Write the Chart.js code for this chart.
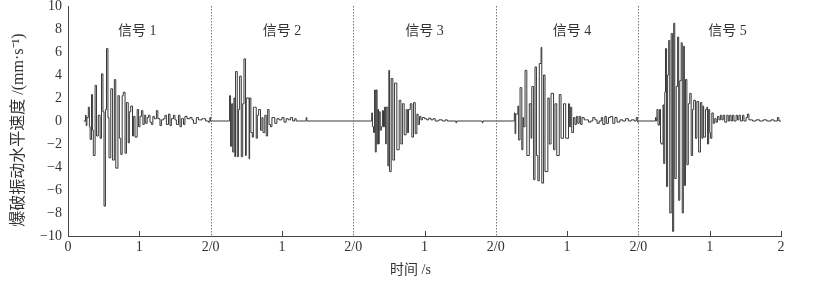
<!DOCTYPE html>
<html><head><meta charset="utf-8">
<script src="https://cdn.jsdelivr.net/npm/chart.js@4.4.0/dist/chart.umd.min.js"></script>
<style>html,body{margin:0;padding:0;background:#fff;}#wrap{width:818px;height:281px;position:relative;}</style>
</head><body><div id="wrap"><canvas id="c"></canvas></div>
<script>
// ---- data ----
const signalNames = ["信号 1", "信号 2", "信号 3", "信号 4", "信号 5"];
const xTickLabels = ["0", "1", "2/0", "1", "2/0", "1", "2/0", "1", "2/0", "1", "2"];
const separators = [2, 4, 6, 8];
const xTitle = "时间 /s";
const yTitle = "爆破振动水平速度 /(mm·s⁻¹)";
// [local time (s), velocity (mm/s)]
const signal1 = [[0.22,0],[0.24,0],[0.245,0.5],[0.255,-0.4],[0.265,0.3],[0.285,1.2],[0.30,-0.5],[0.31,-1.6],[0.33,2.3],[0.345,-0.8],[0.355,-3.0],[0.38,3.1],[0.40,-1.3],[0.425,0.5],[0.45,-1.5],[0.47,4.1],[0.49,0.8],[0.505,-7.4],[0.525,1.0],[0.54,6.3],[0.56,0.3],[0.575,-3.2],[0.60,2.8],[0.625,-3.4],[0.65,3.6],[0.67,-4.1],[0.70,2.2],[0.72,-1.5],[0.74,-2.9],[0.76,2.2],[0.775,2.5],[0.80,-2.8],[0.82,1.6],[0.845,-1.9],[0.86,0.8],[0.88,1.3],[0.905,-1.3],[0.92,0.4],[0.94,-1.4],[0.97,1.0],[0.99,-0.5],[1.01,0.4],[1.03,0.9],[1.05,-0.3],[1.07,0.5],[1.09,-0.2],[1.11,0.3],[1.13,0.5],[1.15,-0.1],[1.17,-0.3],[1.19,0.4],[1.21,0.2],[1.24,0.9],[1.26,0.2],[1.29,-0.4],[1.31,0.1],[1.34,0.2],[1.36,0.5],[1.38,-0.3],[1.41,0.6],[1.43,-0.4],[1.45,0.2],[1.48,0.5],[1.50,0.1],[1.52,-0.3],[1.55,0.5],[1.57,-0.5],[1.59,0.2],[1.62,-0.3],[1.64,0.4],[1.67,0.2],[1.71,0.3],[1.74,0.1],[1.76,-0.2],[1.80,0.3],[1.83,0.1],[1.85,0.1],[1.88,0.2],[1.90,0.2],[1.93,0.0],[1.97,-0.1],[1.99,0.3],[2.0,0]];
const signal2 = [[0.01,0],[0.26,0],[0.266,2.2],[0.28,-2.2],[0.295,1.5],[0.31,-2.7],[0.327,2.0],[0.34,-3.1],[0.35,4.3],[0.374,-3.1],[0.39,1.0],[0.407,3.9],[0.43,-3.1],[0.45,1.5],[0.468,5.4],[0.49,-3.0],[0.50,2.0],[0.54,-3.3],[0.547,2.0],[0.565,-1.0],[0.585,-1.4],[0.60,1.2],[0.617,1.2],[0.64,-1.5],[0.655,0.5],[0.673,1.0],[0.70,-0.8],[0.72,0.3],[0.735,-1.0],[0.76,0.5],[0.78,-1.3],[0.80,1.0],[0.82,-0.3],[0.84,-0.5],[0.86,0.3],[0.875,0.3],[0.90,-0.2],[0.93,0.2],[0.96,0.1],[1.0,0.3],[1.03,-0.1],[1.06,0.2],[1.09,0.1],[1.12,0.3],[1.15,0.0],[1.18,0.2],[1.20,0],[1.33,0],[1.34,0.3],[1.35,0],[2.0,0]];
const signal3 = [[0.01,0],[0.25,0],[0.26,0.7],[0.27,-0.5],[0.285,-1.0],[0.30,2.7],[0.31,-2.7],[0.323,2.7],[0.335,-2.0],[0.346,1.0],[0.355,-2.0],[0.365,0.8],[0.379,-0.8],[0.395,-0.5],[0.41,0.9],[0.425,-0.5],[0.44,1.2],[0.455,-2.0],[0.463,1.2],[0.486,-3.9],[0.50,4.4],[0.51,-4.4],[0.533,3.7],[0.556,-3.4],[0.58,3.3],[0.612,-2.5],[0.645,1.8],[0.669,-2.0],[0.69,1.5],[0.715,-1.2],[0.743,1.0],[0.76,-1.0],[0.776,1.0],[0.80,1.5],[0.823,-1.4],[0.846,1.6],[0.87,-1.1],[0.893,0.6],[0.91,-0.3],[0.93,0.4],[0.95,0.1],[0.97,0.3],[1.0,0.2],[1.03,0.1],[1.06,0.25],[1.09,0.1],[1.12,0.2],[1.15,0.0],[1.20,0.1],[1.25,0.0],[1.29,0.1],[1.32,0],[1.43,0],[1.44,-0.15],[1.45,0],[1.80,0],[1.81,-0.15],[1.82,0],[2.0,0]];
const signal4 = [[0.01,0],[0.25,0],[0.26,0.7],[0.27,-1.1],[0.28,0.6],[0.31,1.3],[0.32,-1.65],[0.34,2.9],[0.365,-2.5],[0.38,0.3],[0.39,-0.5],[0.41,4.4],[0.435,-3.0],[0.47,1.5],[0.495,-1.5],[0.505,3.0],[0.53,-5.1],[0.55,4.7],[0.57,-3.0],[0.59,-5.2],[0.61,5.0],[0.635,6.4],[0.645,-5.4],[0.67,4.0],[0.69,-4.4],[0.73,2.0],[0.75,-2.0],[0.775,2.4],[0.81,-2.5],[0.83,1.5],[0.855,-3.0],[0.89,2.3],[0.915,-1.5],[0.95,1.5],[0.98,-1.5],[1.02,1.5],[1.035,-0.5],[1.05,1.2],[1.065,-1.0],[1.09,0.3],[1.11,-0.3],[1.13,0.4],[1.15,-0.2],[1.17,0.4],[1.19,-0.3],[1.21,0.3],[1.24,0.1],[1.27,0.1],[1.30,-0.1],[1.33,0.0],[1.36,0.3],[1.39,0.1],[1.42,-0.2],[1.45,0.0],[1.48,0.3],[1.50,-0.3],[1.53,0.4],[1.55,-0.2],[1.58,0.3],[1.61,0.4],[1.64,-0.2],[1.67,0.3],[1.70,-0.1],[1.74,0.1],[1.78,0.0],[1.82,0.2],[1.86,0.0],[1.90,0.1],[1.94,0.0],[1.97,0.3],[1.99,-0.1],[2.0,0]];
const signal5 = [[0.01,0],[0.22,0],[0.24,0.3],[0.25,0],[0.26,1.0],[0.275,-0.35],[0.295,1.0],[0.31,-1.9],[0.32,-2.0],[0.345,1.4],[0.355,-3.7],[0.37,2.5],[0.38,6.3],[0.395,-5.7],[0.41,4.0],[0.425,7.0],[0.44,-8.0],[0.46,7.6],[0.48,-9.6],[0.495,8.5],[0.51,-5.0],[0.53,3.0],[0.55,7.3],[0.565,-6.9],[0.58,3.5],[0.60,6.8],[0.615,-8.0],[0.63,6.5],[0.645,-5.6],[0.66,3.6],[0.68,-3.8],[0.70,1.5],[0.72,2.4],[0.74,-3.0],[0.76,1.0],[0.775,1.8],[0.80,-1.5],[0.82,1.7],[0.845,-2.7],[0.87,1.6],[0.89,-1.5],[0.905,1.3],[0.915,-1.4],[0.94,1.0],[0.96,1.2],[0.97,-2.0],[0.985,1.0],[1.0,-1.0],[1.01,-1.5],[1.03,0.7],[1.05,-0.2],[1.07,0.2],[1.09,-0.1],[1.11,0.4],[1.13,0.1],[1.15,0.5],[1.17,0.1],[1.19,0.5],[1.21,-0.1],[1.24,0.5],[1.26,0.0],[1.28,0.5],[1.30,0.0],[1.32,0.5],[1.34,0.0],[1.37,0.5],[1.39,0.1],[1.41,0.5],[1.43,0.0],[1.46,0.5],[1.48,0.0],[1.51,0.3],[1.53,0.6],[1.55,0.1],[1.60,0.0],[1.65,0.1],[1.70,0.0],[1.75,0.1],[1.80,0.0],[1.86,0.1],[1.90,0.0],[1.95,0.3],[1.97,0.0],[2.0,0]];
const signals = [signal1, signal2, signal3, signal4, signal5];
const signalDuration = 2;

// ---- build chart data from arrays ----
const points = [];
signals.forEach((sig, i) => sig.forEach(([t, v]) => points.push({x: t + i * signalDuration, y: v})));

const serif = '"Liberation Serif", "Noto Sans CJK SC", serif';
const textColor = '#333';

const decorPlugin = {
  id: 'decor',
  afterDatasetsDraw(chart) {
    const {ctx, chartArea: a, scales: {x, y}} = chart;
    ctx.save();
    // dotted separators between signals
    ctx.strokeStyle = '#777';
    ctx.lineWidth = 1;
    ctx.setLineDash([1.5, 1.5]);
    separators.forEach(v => {
      const px = Math.round(x.getPixelForValue(v)) + 0.5;
      ctx.beginPath(); ctx.moveTo(px, a.top); ctx.lineTo(px, a.bottom); ctx.stroke();
    });
    ctx.setLineDash([]);
    // inward tick marks
    ctx.strokeStyle = '#444';
    xTickLabels.forEach((l, i) => {
      if (i === 0 || separators.includes(i)) return;
      const px = Math.round(x.getPixelForValue(i)) + 0.5;
      ctx.beginPath(); ctx.moveTo(px, a.bottom); ctx.lineTo(px, a.bottom - 5); ctx.stroke();
    });
    // signal names
    ctx.fillStyle = textColor;
    ctx.font = '14px ' + serif;
    ctx.textAlign = 'center';
    ctx.textBaseline = 'middle';
    const labelX = [0.97, 3.0, 5.0, 7.07, 9.25];
    signalNames.forEach((n, i) => {
      ctx.fillText(n, x.getPixelForValue(labelX[i]), y.getPixelForValue(7.8));
    });
    // axis titles
    ctx.font = '14px ' + serif;
    ctx.fillText(xTitle, (a.left + a.right) / 2 - 14, 270);
    ctx.translate(19, (a.top + a.bottom) / 2 + 9);
    ctx.rotate(-Math.PI / 2);
    ctx.font = '16px ' + serif;
    ctx.fillText(yTitle, 0, 0);
    ctx.restore();
  }
};

new Chart(document.getElementById('c'), {
  type: 'line',
  data: {
    datasets: [{
      data: points,
      borderColor: '#383838',
      borderWidth: 1,
      pointRadius: 0,
      stepped: true,
      fill: false
    }]
  },
  options: {
    responsive: true,
    maintainAspectRatio: false,
    animation: false,
    layout: {padding: {left: 0, right: 37, top: 6, bottom: 0}},
    plugins: {legend: {display: false}, tooltip: {enabled: false}},
    scales: {
      x: {
        type: 'linear', min: 0, max: 10,
        afterFit(s) { s.height = 45; s.paddingLeft = 0; s.paddingRight = 0; },
        afterBuildTicks(s) { s.ticks = xTickLabels.map((l, i) => ({value: i})); },
        ticks: {callback: v => xTickLabels[Math.round(v)], font: {family: serif, size: 14}, color: textColor, padding: 3, maxRotation: 0, autoSkip: false},
        grid: {display: false, drawTicks: false},
        border: {display: true, color: '#444', width: 1},
        title: {display: false}
      },
      y: {
        min: -10, max: 10,
        afterFit(s) { s.width = 68; s.paddingTop = 0; s.paddingBottom = 0; },
        ticks: {stepSize: 2, callback: v => (v < 0 ? '\u2212' + Math.abs(v) : String(v)), font: {family: serif, size: 14}, color: textColor, padding: 6},
        grid: {display: false, drawTicks: false},
        border: {display: true, color: '#444', width: 1},
        title: {display: false}
      }
    }
  },
  plugins: [decorPlugin]
});
</script></body></html>
